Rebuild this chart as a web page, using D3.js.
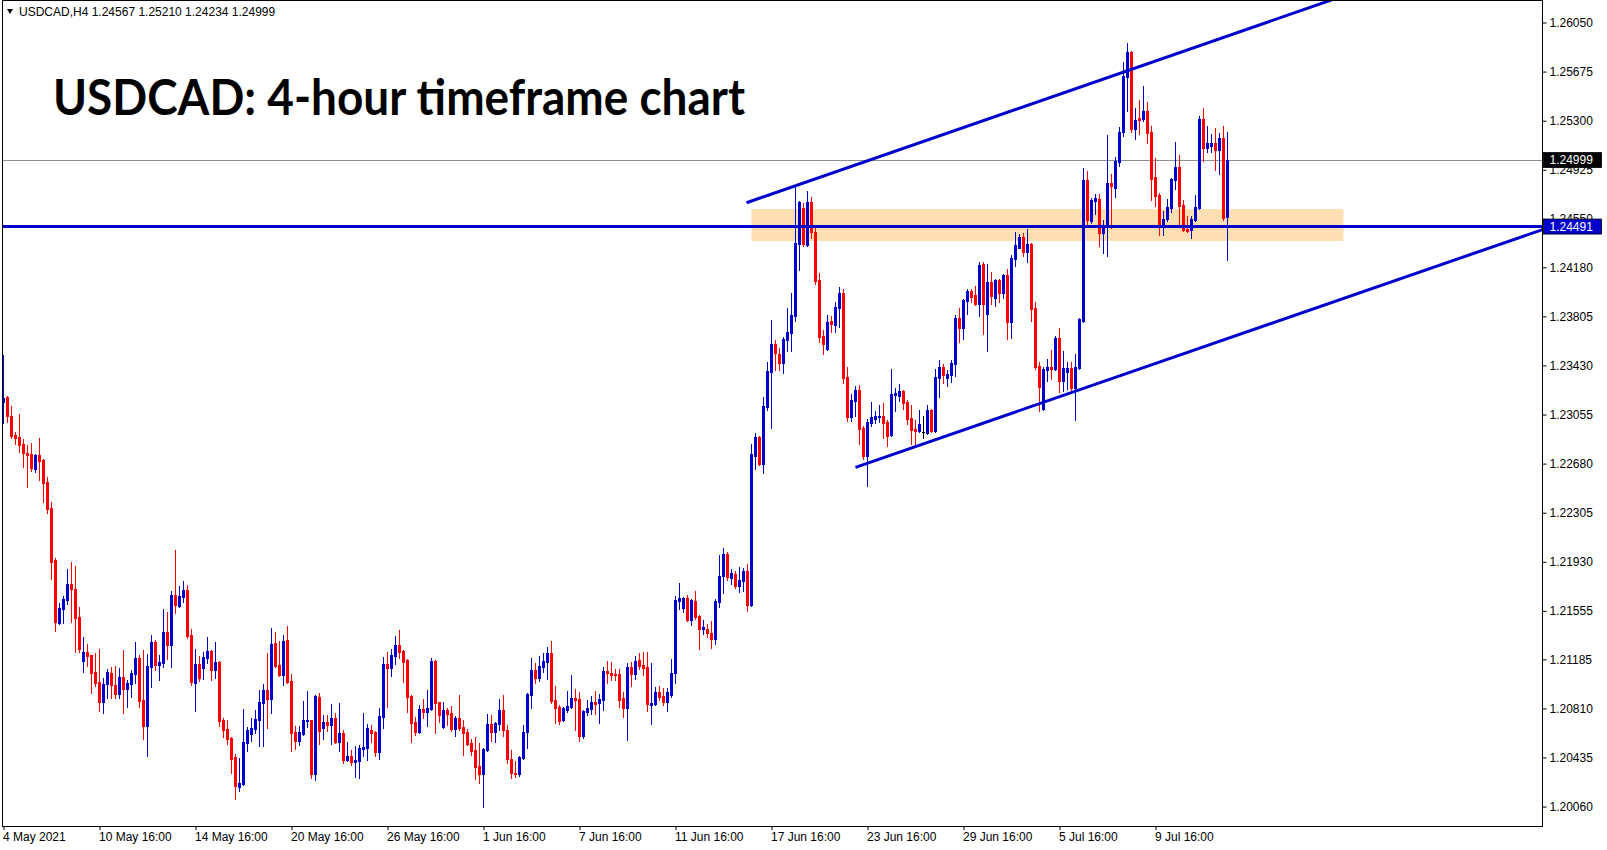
<!DOCTYPE html>
<html><head><meta charset="utf-8">
<script src="https://cdn.jsdelivr.net/npm/d3@7"></script>
<style>html,body{margin:0;padding:0;background:#fff;overflow:hidden}</style>
</head><body><svg id="c" width="1607" height="850" xmlns="http://www.w3.org/2000/svg"></svg>
<script>
// ---- DATA (USDCAD H4) ----
const opens=[
1.23153,1.23191,1.23043,1.22898,1.22883,1.22829,1.22763,1.22753,1.22638,1.22745,
1.22707,1.22539,1.22340,1.21943,1.21464,1.21571,1.21642,1.21760,1.21721,1.21507,
1.21174,1.21240,1.21217,1.21087,1.21011,1.20861,1.20994,1.21080,1.20989,1.20922,
1.21050,1.20958,1.20999,1.21070,1.21195,1.20874,1.20675,1.21129,1.21317,1.21142,
1.21157,1.21394,1.21294,1.21676,1.21592,1.21664,1.21715,1.21371,1.21007,1.21149,
1.21121,1.21198,1.21248,1.21103,1.21167,1.20721,1.20652,1.20584,1.20438,1.20209,
1.20232,1.20545,1.20614,1.20652,1.20721,1.20851,1.20950,1.20882,1.21309,1.21141,
1.21065,1.21332,1.21019,1.20630,1.20561,1.20614,1.20716,1.20721,1.20309,1.20897,
1.20660,1.20706,1.20683,1.20736,1.20553,1.20622,1.20415,1.20446,1.20400,1.20408,
1.20500,1.20507,1.20645,1.20630,1.20477,1.20744,1.21149,1.21118,1.21210,1.21294,
1.21248,1.21177,1.20904,1.20706,1.20629,1.20805,1.20782,1.20805,1.21172,1.20858,
1.20668,1.20798,1.20775,1.20652,1.20736,1.20668,1.20629,1.20546,1.20492,1.20370,
1.20309,1.20492,1.20691,1.20629,1.20691,1.20798,1.20645,1.20423,1.20316,1.20308,
1.20430,1.20629,1.20912,1.21103,1.21042,1.21126,1.21164,1.21233,1.20874,1.20820,
1.20721,1.20797,1.20820,1.20889,1.20881,1.20599,1.20782,1.20805,1.20858,1.20851,
1.20874,1.21095,1.21080,1.21072,1.21072,1.20889,1.20812,1.21126,1.21072,1.21179,
1.21141,1.21126,1.20835,1.20843,1.20935,1.20904,1.20858,1.20912,1.21080,1.21630,
1.21576,1.21653,1.21485,1.21630,1.21515,1.21416,1.21416,1.21385,1.21340,1.21622,
1.21821,1.21989,1.21808,1.21836,1.21744,1.21782,1.21859,1.21599,1.22740,1.22885,
1.22679,1.23112,1.23380,1.23596,1.23519,1.23448,1.23627,1.23680,1.23807,1.24360,
1.24633,1.24353,1.24679,1.24450,1.24083,1.23655,1.23556,1.23770,1.23742,1.23871,
1.23983,1.23344,1.23038,1.23161,1.23242,1.22952,1.22738,1.22990,1.23021,1.23036,
1.23044,1.22998,1.22898,1.23204,1.23197,1.23235,1.23151,1.23028,1.22944,1.22929,
1.22921,1.22914,1.23090,1.22929,1.23334,1.23418,1.23334,1.23357,1.23441,1.23792,
1.23716,1.23923,1.23999,1.23969,1.23900,1.24205,1.23823,1.24067,1.23946,1.24083,
1.23984,1.24121,1.23762,1.24243,1.24330,1.24411,1.24297,1.24358,1.23869,1.23426,
1.23097,1.23395,1.23418,1.23403,1.23640,1.23311,1.23380,1.23410,1.23257,1.23410,
1.23769,1.24847,1.24533,1.24686,1.24702,1.24442,1.24488,1.24824,1.24786,1.24984,
1.25213,1.25634,1.25825,1.25236,1.25320,1.25313,1.25374,1.25213,1.24870,1.24732,
1.24503,1.24549,1.24633,1.24847,1.24946,1.24656,1.24472,1.24465,1.24541,1.24633,
1.25313,1.25091,1.25106,1.25129,1.25076,1.25168,1.24567];
const highs=[
1.23509,1.23196,1.23120,1.22921,1.23059,1.22865,1.22819,1.22837,1.22753,1.22875,
1.22717,1.22580,1.22386,1.21958,1.21612,1.21668,1.21874,1.21928,1.21897,1.21586,
1.21355,1.21301,1.21220,1.21235,1.21263,1.21041,1.21108,1.21129,1.21134,1.21119,
1.21256,1.21024,1.21103,1.21317,1.21220,1.21256,1.21226,1.21371,1.21333,1.21218,
1.21569,1.21546,1.21707,1.22020,1.21745,1.21783,1.21753,1.21417,1.21264,1.21210,
1.21238,1.21355,1.21256,1.21317,1.21174,1.20736,1.20719,1.20590,1.20461,1.20431,
1.20805,1.20670,1.20736,1.20798,1.20950,1.20996,1.21233,1.21424,1.21394,1.21325,
1.21371,1.21439,1.21073,1.20675,1.20675,1.20866,1.20943,1.20725,1.20912,1.20927,
1.20759,1.20759,1.20843,1.20775,1.20851,1.20645,1.20553,1.20492,1.20522,1.20530,
1.20775,1.20691,1.20683,1.20637,1.20813,1.21203,1.21241,1.21264,1.21363,1.21409,
1.21256,1.21185,1.20912,1.20744,1.20836,1.20882,1.20950,1.21195,1.21180,1.20862,
1.20858,1.20813,1.20828,1.20752,1.20912,1.20721,1.20652,1.20576,1.20592,1.20546,
1.20505,1.20767,1.20759,1.20706,1.20882,1.20912,1.20683,1.20492,1.20408,1.20446,
1.20683,1.20927,1.21195,1.21156,1.21210,1.21233,1.21279,1.21325,1.20981,1.20836,
1.20820,1.20942,1.21065,1.20958,1.20935,1.20797,1.20874,1.20904,1.20942,1.20920,
1.21126,1.21172,1.21164,1.21110,1.21110,1.20935,1.21156,1.21164,1.21210,1.21233,
1.21240,1.21240,1.21156,1.20973,1.20980,1.20965,1.20965,1.21187,1.21668,1.21767,
1.21660,1.21676,1.21645,1.21706,1.21520,1.21485,1.21454,1.21475,1.21646,1.21981,
1.22035,1.22004,1.21874,1.21859,1.21890,1.21882,1.21912,1.22830,1.22916,1.22890,
1.23189,1.23456,1.23777,1.23624,1.23565,1.23650,1.23869,1.23983,1.24793,1.24685,
1.24671,1.24763,1.24720,1.24480,1.24136,1.23701,1.23815,1.23808,1.23915,1.24029,
1.24014,1.23418,1.23212,1.23273,1.23281,1.22967,1.23021,1.23151,1.23082,1.23128,
1.23140,1.23013,1.23403,1.23258,1.23289,1.23240,1.23166,1.23128,1.23013,1.23090,
1.23044,1.23128,1.23097,1.23403,1.23472,1.23441,1.23395,1.23472,1.23815,1.23869,
1.23935,1.24014,1.24014,1.24037,1.24221,1.24221,1.24205,1.24144,1.24091,1.24091,
1.24125,1.24167,1.24274,1.24449,1.24434,1.24442,1.24472,1.24366,1.23915,1.23456,
1.23418,1.23479,1.23548,1.23655,1.23716,1.23540,1.23456,1.23456,1.23517,1.23790,
1.24938,1.24916,1.24709,1.24740,1.24740,1.24541,1.25191,1.24892,1.25022,1.25252,
1.25748,1.25893,1.25833,1.25397,1.25458,1.25565,1.25443,1.25259,1.25015,1.24747,
1.24610,1.24702,1.24860,1.25137,1.25038,1.24694,1.24572,1.24572,1.24732,1.25336,
1.25397,1.25259,1.25198,1.25244,1.25206,1.25259,1.25210];
const lows=[
1.22987,1.23000,1.22873,1.22829,1.22771,1.22656,1.22503,1.22626,1.22618,1.22554,
1.22389,1.22300,1.21800,1.21403,1.21454,1.21464,1.21607,1.21472,1.21243,1.21243,
1.21090,1.21133,1.20929,1.20983,1.20792,1.20777,1.20892,1.20892,1.20887,1.20887,
1.20777,1.20823,1.20900,1.21007,1.20823,1.20579,1.20446,1.20976,1.21103,1.21029,
1.21129,1.21190,1.21129,1.21541,1.21587,1.21625,1.21350,1.20989,1.20793,1.21022,
1.21032,1.21159,1.21027,1.21045,1.20675,1.20594,1.20538,1.20319,1.20117,1.20179,
1.20225,1.20484,1.20561,1.20624,1.20522,1.20522,1.20660,1.20775,1.21126,1.21057,
1.20991,1.21004,1.20484,1.20500,1.20530,1.20607,1.20668,1.20278,1.20263,1.20538,
1.20576,1.20637,1.20538,1.20545,1.20484,1.20393,1.20408,1.20377,1.20286,1.20278,
1.20446,1.20415,1.20553,1.20446,1.20423,1.20660,1.20820,1.21057,1.21149,1.21195,
1.21011,1.20782,1.20553,1.20606,1.20622,1.20736,1.20675,1.20800,1.20622,1.20706,
1.20660,1.20683,1.20637,1.20599,1.20645,1.20454,1.20530,1.20454,1.20271,1.20240,
1.20056,1.20485,1.20561,1.20553,1.20645,1.20599,1.20392,1.20278,1.20285,1.20293,
1.20423,1.20507,1.20813,1.21004,1.21019,1.21088,1.21034,1.20851,1.20698,1.20690,
1.20713,1.20782,1.20813,1.20645,1.20560,1.20583,1.20759,1.20767,1.20767,1.20698,
1.20797,1.21004,1.21026,1.21026,1.20820,1.20744,1.20568,1.20980,1.21034,1.21110,
1.21065,1.20789,1.20690,1.20835,1.20873,1.20835,1.20789,1.20896,1.21003,1.21569,
1.21546,1.21477,1.21447,1.21492,1.21263,1.21378,1.21355,1.21270,1.21300,1.21586,
1.21688,1.21790,1.21760,1.21729,1.21698,1.21706,1.21553,1.21590,1.22641,1.22672,
1.22610,1.23089,1.22954,1.23397,1.23395,1.23374,1.23543,1.23543,1.23772,1.24159,
1.24345,1.24345,1.24400,1.24050,1.23612,1.23517,1.23548,1.23685,1.23685,1.23726,
1.23298,1.23008,1.23008,1.23044,1.22832,1.22715,1.22509,1.22967,1.22990,1.22998,
1.22878,1.22817,1.22890,1.23082,1.23159,1.23097,1.22982,1.22830,1.22822,1.22921,
1.22876,1.22906,1.22921,1.22922,1.23189,1.23296,1.23273,1.23304,1.23349,1.23609,
1.23632,1.23823,1.23915,1.23892,1.23808,1.23670,1.23540,1.23900,1.23884,1.23915,
1.23946,1.23632,1.23639,1.24190,1.24327,1.24266,1.24220,1.23769,1.23403,1.23082,
1.23090,1.23311,1.23326,1.23395,1.23227,1.23235,1.23250,1.23235,1.23013,1.23403,
1.23765,1.24495,1.24518,1.24587,1.24342,1.24289,1.24266,1.24480,1.24717,1.24954,
1.25183,1.25374,1.25213,1.25160,1.25198,1.25298,1.25129,1.24694,1.24648,1.24426,
1.24426,1.24534,1.24602,1.24778,1.24511,1.24457,1.24450,1.24404,1.24536,1.24625,
1.24992,1.25061,1.25061,1.24923,1.24892,1.24540,1.24234];
const closes=[
1.23178,1.23043,1.22891,1.22878,1.22822,1.22763,1.22745,1.22646,1.22745,1.22702,
1.22534,1.22335,1.21930,1.21472,1.21576,1.21645,1.21760,1.21724,1.21502,1.21263,
1.21240,1.21212,1.21082,1.21006,1.20861,1.20996,1.21088,1.20991,1.20922,1.21050,
1.20958,1.21004,1.21078,1.21195,1.20869,1.20675,1.21134,1.21317,1.21142,1.21164,
1.21394,1.21294,1.21676,1.21600,1.21669,1.21715,1.21363,1.21014,1.21149,1.21045,
1.21203,1.21248,1.21103,1.21164,1.20713,1.20645,1.20576,1.20423,1.20217,1.20240,
1.20553,1.20645,1.20660,1.20729,1.20859,1.20950,1.20882,1.21302,1.21134,1.21065,
1.21325,1.21011,1.20622,1.20561,1.20630,1.20721,1.20721,1.20309,1.20905,1.20637,
1.20706,1.20683,1.20736,1.20553,1.20622,1.20415,1.20446,1.20400,1.20415,1.20507,
1.20515,1.20660,1.20622,1.20477,1.20752,1.21149,1.21118,1.21218,1.21294,1.21241,
1.21164,1.20897,1.20698,1.20629,1.20805,1.20782,1.20813,1.21172,1.20851,1.20759,
1.20798,1.20767,1.20652,1.20736,1.20660,1.20622,1.20538,1.20485,1.20362,1.20309,
1.20500,1.20691,1.20629,1.20698,1.20798,1.20645,1.20423,1.20316,1.20308,1.20438,
1.20629,1.20920,1.21103,1.21042,1.21134,1.21172,1.21233,1.20866,1.20813,1.20713,
1.20813,1.20828,1.20889,1.20874,1.20599,1.20790,1.20813,1.20858,1.20843,1.20881,
1.21095,1.21080,1.21065,1.21065,1.20873,1.20812,1.21126,1.21072,1.21171,1.21133,
1.21118,1.20843,1.20851,1.20935,1.20896,1.20858,1.20935,1.21080,1.21638,1.21653,
1.21653,1.21485,1.21638,1.21508,1.21416,1.21431,1.21385,1.21340,1.21630,1.21821,
1.21989,1.21816,1.21841,1.21744,1.21790,1.21859,1.21599,1.22753,1.22885,1.22679,
1.23120,1.23387,1.23596,1.23524,1.23448,1.23634,1.23688,1.23815,1.24365,1.24679,
1.24360,1.24679,1.24450,1.24077,1.23650,1.23594,1.23762,1.23747,1.23876,1.23983,
1.23336,1.23038,1.23166,1.23242,1.22945,1.22738,1.22998,1.23036,1.23044,1.23044,
1.22990,1.22891,1.23212,1.23219,1.23235,1.23143,1.23021,1.22937,1.22929,1.22983,
1.22921,1.23090,1.22929,1.23342,1.23418,1.23357,1.23365,1.23449,1.23792,1.23716,
1.23930,1.23999,1.23953,1.23900,1.24198,1.23900,1.24067,1.23961,1.24083,1.23984,
1.24121,1.23762,1.24251,1.24350,1.24414,1.24297,1.24358,1.23861,1.23418,1.23265,
1.23403,1.23418,1.23403,1.23640,1.23311,1.23410,1.23410,1.23257,1.23418,1.23785,
1.24847,1.24541,1.24694,1.24709,1.24442,1.24495,1.24824,1.24801,1.24992,1.25213,
1.25641,1.25825,1.25236,1.25305,1.25305,1.25374,1.25206,1.24854,1.24724,1.24503,
1.24549,1.24640,1.24854,1.24946,1.24648,1.24465,1.24457,1.24549,1.24640,1.25313,
1.25091,1.25129,1.25129,1.25076,1.25168,1.24556,1.24999];

const timeTickIdx=[0,24,48,72,96,120,144,168,192,216,240,264,288];
const timeTickLabels=["4 May 2021","10 May 16:00","14 May 16:00","20 May 16:00","26 May 16:00","1 Jun 16:00","7 Jun 16:00","11 Jun 16:00","17 Jun 16:00","23 Jun 16:00","29 Jun 16:00","5 Jul 16:00","9 Jul 16:00"];
const priceTicks=[1.26050,1.25675,1.25300,1.24925,1.24550,1.24180,1.23805,1.23430,1.23055,1.22680,1.22305,1.21930,1.21555,1.21185,1.20810,1.20435,1.20060];

const symbolInfo="USDCAD,H4";
const bidPrice=1.24999;
const levelPrice=1.24491;
const zoneX=[187,335];
const zonePrice=[1.24381,1.24625];
const upperTrend=[[185.75,1.24673],[340,1.26307]];
const lowerTrend=[[213,1.22652],[384.75,1.24468]];
const titleText="USDCAD: 4-hour timeframe chart";

// ---- DRAW ----
const svg=d3.select("#c");
const W=1607,H=850;
const L=2,R=1542.5,T=0,B=826;
const x=d3.scaleLinear().domain([0,384.75]).range([3.5,1542.5]);
const y=d3.scaleLinear().domain([1.20060,1.26050]).range([806.6,22.5]);
const BLUE="#0000CD", RED="#FF0000";

svg.append("rect").attr("width",W).attr("height",H).attr("fill","#fff");
svg.append("defs").append("clipPath").attr("id","clip")
  .append("rect").attr("x",L).attr("y",T).attr("width",R-L).attr("height",B-T);
const g=svg.append("g").attr("clip-path","url(#clip)");

// zone
g.append("rect")
  .attr("x",x(zoneX[0])).attr("width",x(zoneX[1])-x(zoneX[0]))
  .attr("y",y(zonePrice[1])).attr("height",y(zonePrice[0])-y(zonePrice[1]))
  .attr("fill","#FDDFB1");

// bid line
g.append("line").attr("x1",0).attr("x2",R).attr("y1",Math.round(y(bidPrice))+0.5).attr("y2",Math.round(y(bidPrice))+0.5)
  .attr("stroke","#8a9096").attr("stroke-width",1);

// candles
const idx=d3.range(closes.length);
const cg=g.append("g").attr("shape-rendering","crispEdges");
idx.forEach(i=>{
  const o=opens[i],c=closes[i],h=highs[i],l=lows[i];
  const col=c>o?BLUE:(c<o?RED:"#000");
  const cx=x(i);
  const yh=Math.round(y(h)), yl=Math.round(y(l));
  cg.append("rect").attr("x",cx-0.5).attr("width",1).attr("y",yh).attr("height",Math.max(1,yl-yh+1)).attr("fill",col);
  const yt=Math.round(y(Math.max(o,c))), yb=Math.round(y(Math.min(o,c)));
  cg.append("rect").attr("x",cx-1.5).attr("width",3).attr("y",yt).attr("height",Math.max(1,yb-yt+1)).attr("fill",col);
});

// horizontal level
g.append("line").attr("x1",0).attr("x2",R).attr("y1",y(levelPrice)).attr("y2",y(levelPrice))
  .attr("stroke",BLUE).attr("stroke-width",3);
// trendlines
const line=d3.line().x(d=>x(d[0])).y(d=>y(d[1]));
[upperTrend,lowerTrend].forEach(t=>{
  g.append("path").attr("d",line(t)).attr("stroke",BLUE).attr("stroke-width",3).attr("fill","none");
});

// frame
const fr=svg.append("g").attr("shape-rendering","crispEdges");
fr.append("line").attr("x1",2).attr("x2",2).attr("y1",0).attr("y2",B).attr("stroke","#000");
fr.append("line").attr("x1",R).attr("x2",R).attr("y1",0).attr("y2",B).attr("stroke","#000");
fr.append("line").attr("x1",2).attr("x2",R).attr("y1",B+0.5).attr("y2",B+0.5).attr("stroke","#000");
fr.append("line").attr("x1",2).attr("x2",R).attr("y1",0.5).attr("y2",0.5).attr("stroke","#000");

// right axis
const yAxis=d3.axisRight(y).tickValues(priceTicks).tickFormat(d3.format(".5f")).tickSize(4).tickPadding(3);
const ya=svg.append("g").attr("transform",`translate(${R},0)`).call(yAxis);
ya.select(".domain").remove();
ya.selectAll("text").attr("font-family","Liberation Sans, Arial, sans-serif").attr("font-size",12).attr("fill","#000");
ya.selectAll("line").attr("stroke","#000");

// bottom axis
const xAxis=d3.axisBottom(x).tickValues(timeTickIdx).tickFormat((d,i)=>timeTickLabels[i]).tickSize(4).tickPadding(2);
const xa=svg.append("g").attr("transform",`translate(0,${B})`).call(xAxis);
xa.select(".domain").remove();
xa.selectAll("text").attr("text-anchor","start").attr("dx",-1).attr("font-family","Liberation Sans, Arial, sans-serif").attr("font-size",12).attr("fill","#000");
xa.selectAll("line").attr("stroke","#000");

// price labels
function priceBox(p,bg,fg){
  const yy=y(p);
  svg.append("rect").attr("x",R+1).attr("y",yy-7.5).attr("width",58).attr("height",15).attr("fill",bg).attr("stroke","#000").attr("stroke-width",0.8);
  svg.append("text").attr("x",R+7).attr("y",yy).attr("dy","0.35em").attr("font-family","Liberation Sans, Arial, sans-serif").attr("font-size",12).attr("fill",fg).text(d3.format(".5f")(p));
}
priceBox(bidPrice,"#000","#fff");
priceBox(levelPrice,BLUE,"#fff");

// top-left info
svg.append("path").attr("d","M7,9 L13,9 L10,14 Z").attr("fill","#000");
svg.append("text").attr("x",19).attr("y",12).attr("dy","0.35em").attr("font-family","Liberation Sans, Arial, sans-serif").attr("font-size",12).attr("fill","#000")
  .text(symbolInfo+"  "+[opens[opens.length-1],highs[highs.length-1],lows[lows.length-1],closes[closes.length-1]].map(d3.format(".5f")).join(" "));

// title
svg.append("text").attr("x",53).attr("y",115).attr("font-family","Lato, 'Open Sans', sans-serif").attr("font-weight","bold").attr("font-size",50)
  .attr("textLength",692).attr("lengthAdjust","spacingAndGlyphs").attr("fill","#000").text(titleText);
</script></body></html>
